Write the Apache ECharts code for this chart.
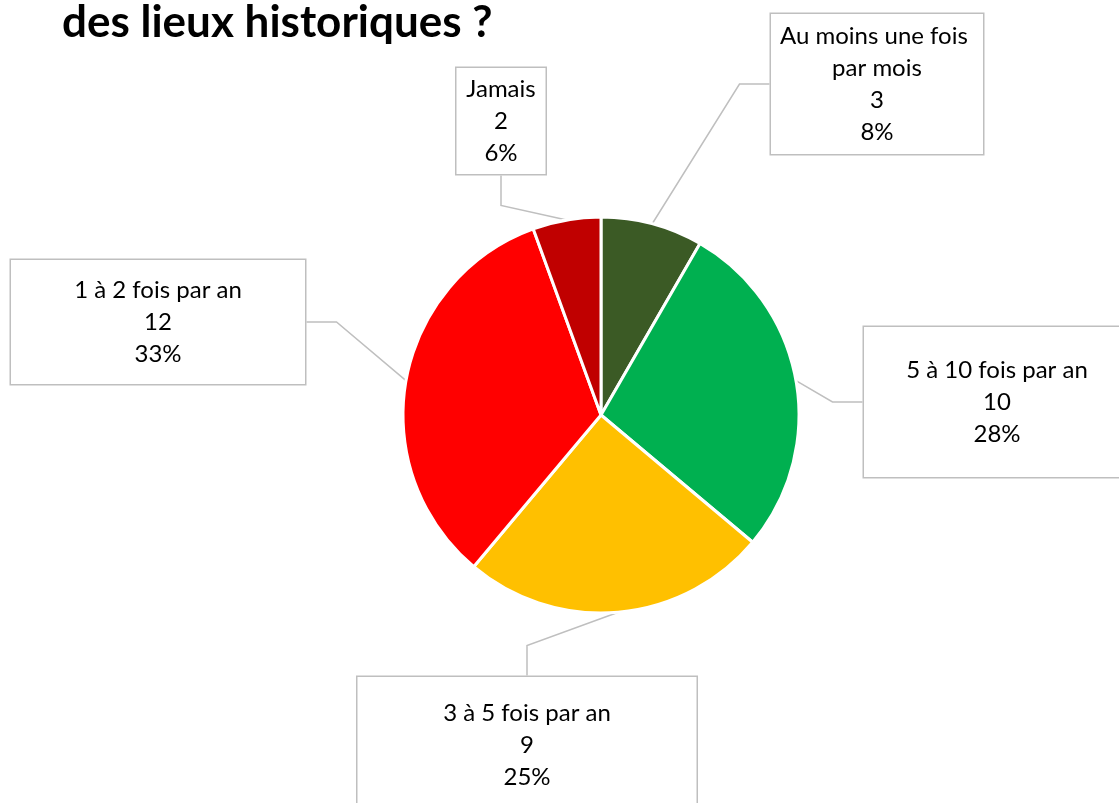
<!DOCTYPE html>
<html>
<head>
<meta charset="utf-8">
<script src="https://cdn.jsdelivr.net/npm/echarts@6/dist/echarts.min.js"></script>
<style>
  html, body { margin: 0; padding: 0; background: #fff; }
  #main { width: 1119px; height: 803px; }
</style>
</head>
<body>
<div id="main"></div>
<script>
// donnees
var categories = ['Au moins une fois par mois', '5 à 10 fois par an', '3 à 5 fois par an', '1 à 2 fois par an', 'Jamais'];
var values = [3, 10, 9, 12, 2];
var colors = ['#3B5A25', '#00B050', '#FFC000', '#FF0000', '#C00000'];

// position des boites d'etiquettes : [centre x, centre y, largeur, padding haut, padding bas]
var boxes = [
    [877, 84, 212, 7, 5],
    [997, 402, 266, 29, 25],
    [527, 745, 339, 20, 20],
    [158, 322, 294, 17, 11],
    [501, 121, 89, 5, 5]
];

var chart = echarts.init(document.getElementById('main'));

var data = [];
for (var i = 0; i < categories.length; i++) {
    data.push({
        name: categories[i],
        value: values[i],
        itemStyle: { color: colors[i] },
        label: {
            width: boxes[i][2],
            padding: [boxes[i][3], 0, boxes[i][4], 0]
        }
    });
}

chart.setOption({
    animation: false,
    title: {
        text: 'des lieux historiques ?',
        left: 57,
        top: -4,
        textStyle: { fontFamily: 'Lato', fontSize: 44, fontWeight: 'bold', color: '#000' }
    },
    series: [{
        type: 'pie',
        center: [601, 415],
        radius: 198,
        startAngle: 90,
        clockwise: true,
        avoidLabelOverlap: false,
        itemStyle: { borderColor: '#fff', borderWidth: 3 },
        label: {
            show: true,
            position: 'outside',
            overflow: 'break',
            align: 'center',
            fontFamily: 'Lato',
            fontSize: 24,
            lineHeight: 32,
            color: '#000',
            backgroundColor: '#fff',
            borderColor: '#bfbfbf',
            borderWidth: 1.5,
            formatter: function (p) {
                return p.name + '\n' + p.value + '\n' + Math.round(p.percent) + '%';
            }
        },
        labelLine: {
            show: true,
            lineStyle: { color: '#bfbfbf', width: 1.5 }
        },
        labelLayout: function (params) {
            var b = boxes[params.dataIndex];
            return { x: b[0], y: b[1], align: 'center', verticalAlign: 'middle' };
        },
        emphasis: { disabled: true },
        data: data
    }]
});
</script>
</body>
</html>
